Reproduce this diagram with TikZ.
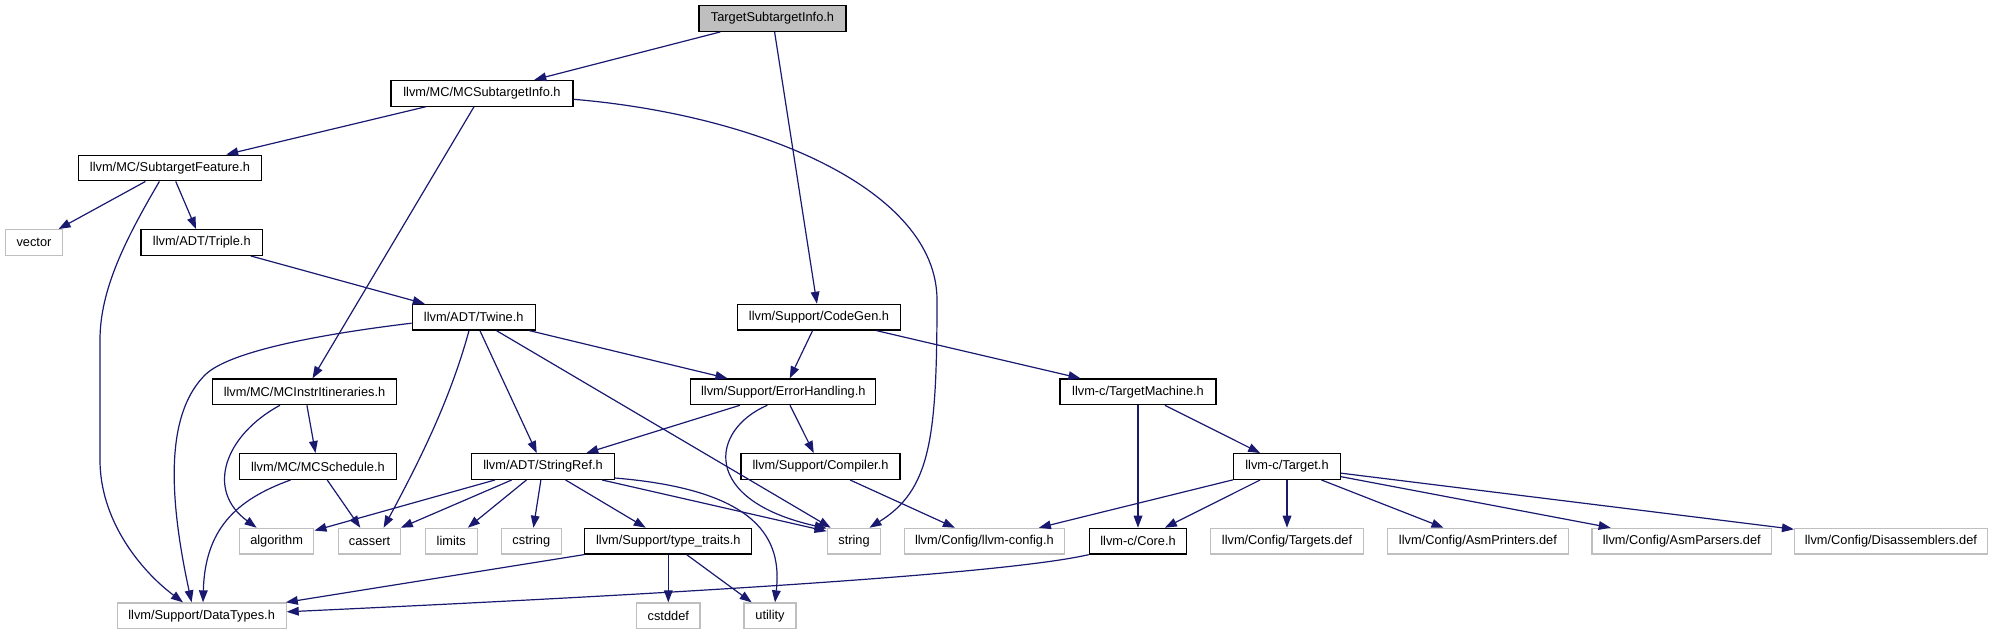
\documentclass[tikz,border=0pt]{standalone}
\usepackage{fontspec}
\setmainfont{Liberation Sans}
\usetikzlibrary{arrows.meta,calc}
\definecolor{edgeblue}{HTML}{191970}
\definecolor{greyse}{HTML}{BFBFBF}
\newcommand\fsz{\fontsize{9.6}{11}\selectfont}
\tikzset{
  hdr/.style={draw=black, fill=white, line width=0.9pt, minimum height=19.3pt, inner sep=0pt, font=\fsz},
  ext/.style={hdr, draw=greyse},
  cur/.style={hdr, fill=greyse},
  dep/.style={draw=edgeblue, line width=0.9pt, -{Triangle[length=9pt,width=6.5pt]}},
}
\begin{document}
\begin{tikzpicture}[x=0.75pt,y=-0.75pt]
\useasboundingbox (0,0) rectangle (1993,635);
% nodes
\node[cur, minimum width=110.25pt] (tsi) at (772.5,18.5) {TargetSubtargetInfo.h};
\node[hdr, minimum width=136.5pt] (mcsi) at (482,93.3) {llvm/MC/MCSubtargetInfo.h};
\node[hdr, minimum width=137pt] (sf) at (170,168) {llvm/MC/SubtargetFeature.h};
\node[ext, minimum width=42.75pt] (vector) at (34,242.5) {vector};
\node[hdr, minimum width=91.1pt] (triple) at (201.8,242.5) {llvm/ADT/Triple.h};
\node[hdr, minimum width=92.25pt] (twine) at (473.7,317.2) {llvm/ADT/Twine.h};
\node[hdr, minimum width=122.25pt] (codegen) at (819,317.2) {llvm/Support/CodeGen.h};
\node[hdr, minimum width=138pt] (mcii) at (304.5,391.8) {llvm/MC/MCInstrItineraries.h};
\node[hdr, minimum width=138.75pt] (eh) at (783.3,391.8) {llvm/Support/ErrorHandling.h};
\node[hdr, minimum width=117pt] (tm) at (1138,391.8) {llvm-c/TargetMachine.h};
\node[hdr, minimum width=117.75pt] (mcs) at (317.9,466.5) {llvm/MC/MCSchedule.h};
\node[hdr, minimum width=106.8pt] (sr) at (543,466.5) {llvm/ADT/StringRef.h};
\node[hdr, minimum width=119.25pt] (comp) at (820.5,466.5) {llvm/Support/Compiler.h};
\node[hdr, minimum width=80.25pt] (target) at (1287,466.5) {llvm-c/Target.h};
\node[ext, minimum width=55.9pt] (algo) at (276.6,541.2) {algorithm};
\node[ext, minimum width=46.9pt] (cassert) at (369.6,541.2) {cassert};
\node[ext, minimum width=39pt] (limits) at (451.3,541.2) {limits};
\node[ext, minimum width=45pt] (cstring) at (531.3,541.2) {cstring};
\node[hdr, minimum width=125.25pt] (tt) at (668.3,541.2) {llvm/Support/type\_traits.h};
\node[ext, minimum width=40.2pt] (string) at (854,541.2) {string};
\node[ext, minimum width=120pt] (cfg) at (984.4,541.2) {llvm/Config/llvm-config.h};
\node[hdr, minimum width=73pt] (core) at (1138,541.2) {llvm-c/Core.h};
\node[ext, minimum width=115.3pt] (tdef) at (1287,541.2) {llvm/Config/Targets.def};
\node[ext, minimum width=135.5pt] (asmp) at (1477.9,541.2) {llvm/Config/AsmPrinters.def};
\node[ext, minimum width=134.6pt] (asmpa) at (1681.8,541.2) {llvm/Config/AsmParsers.def};
\node[ext, minimum width=144.5pt] (dis) at (1890.9,541.2) {llvm/Config/Disassemblers.def};
\node[ext, minimum width=126.75pt] (dt) at (201.6,615.8) {llvm/Support/DataTypes.h};
\node[ext, minimum width=47.55pt] (cstddef) at (668.3,615.8) {cstddef};
\node[ext, minimum width=39pt] (utility) at (770,615.8) {utility};
% straight edges
\draw[dep] (tsi) -- (mcsi);
\draw[dep] (tsi) -- (codegen);
\draw[dep] (mcsi) -- (sf);
\draw[dep] (mcsi) -- (mcii);
\draw[dep] (sf) -- (vector);
\draw[dep] (sf) -- (triple);
\draw[dep] (triple) -- (twine);
\draw[dep] (twine) -- (sr);
\draw[dep] (twine) -- (string.150);
\draw[dep] (twine) -- (eh);
\draw[dep] (codegen) -- (eh);
\draw[dep] (codegen) -- (tm);
\draw[dep] (mcii) -- (mcs);
\draw[dep] (mcs) -- (cassert);
\draw[dep] (eh) -- (sr);
\draw[dep] (eh) -- (comp);
\draw[dep] (sr) -- (algo);
\draw[dep] (sr) -- (cassert);
\draw[dep] (sr) -- (limits);
\draw[dep] (sr) -- (cstring);
\draw[dep] (sr) -- (tt);
\draw[dep] (sr) -- (string.160);
\draw[dep] (tt) -- (dt);
\draw[dep] (tt) -- (cstddef);
\draw[dep] (tt) -- (utility);
\draw[dep] (comp) -- (cfg);
\draw[dep] (tm) -- (core);
\draw[dep] (tm) -- (target);
\draw[dep] (target) -- (cfg);
\draw[dep] (target) -- (core);
\draw[dep] (target) -- (tdef);
\draw[dep] (target) -- (asmp);
\draw[dep] (target) -- (asmpa);
\draw[dep] (target) -- (dis);
% curved edges
\draw[dep] ($(mcsi.east)+(0,6)$) .. controls (760,115) and (937,190) .. (937,300) .. controls (937,440) and (930,490) .. (string.41);
\draw[dep] ($(sf.south)+(-10.6,0)$) .. controls (125,240) and (100,290) .. (100,340) -- (100,460) .. controls (100,520) and (140,570) .. ($(dt.north)+(-18.6,0)$);
\draw[dep] ($(twine.west)+(0,6)$) .. controls (330,333) and (230,350) .. (205,375) .. controls (170,410) and (165,480) .. ($(dt.north)+(-10,0)$);
\draw[dep] ($(twine.south)+(-4.7,0)$) .. controls (450,400) and (420,460) .. ($(cassert.north)+(14,0)$);
\draw[dep] ($(mcii.south)+(-24.5,0)$) .. controls (225,435) and (205,490) .. ($(algo.north)+(-20,0)$);
\draw[dep] ($(mcs.south)+(-27.3,0)$) .. controls (235,500) and (205,530) .. ($(dt.north)+(1.4,0)$);
\draw[dep] ($(eh.south)+(-16,0)$) .. controls (710,430) and (700,500) .. (string.155);
\draw[dep] ($(sr.east)+(0,11.5)$) .. controls (760,490) and (782,540) .. ($(utility.north)+(5,0)$);
\draw[dep] (core.south west) .. controls (1000,575) and (650,595) .. ($(dt.east)+(0,-4)$);
\end{tikzpicture}
\end{document}
